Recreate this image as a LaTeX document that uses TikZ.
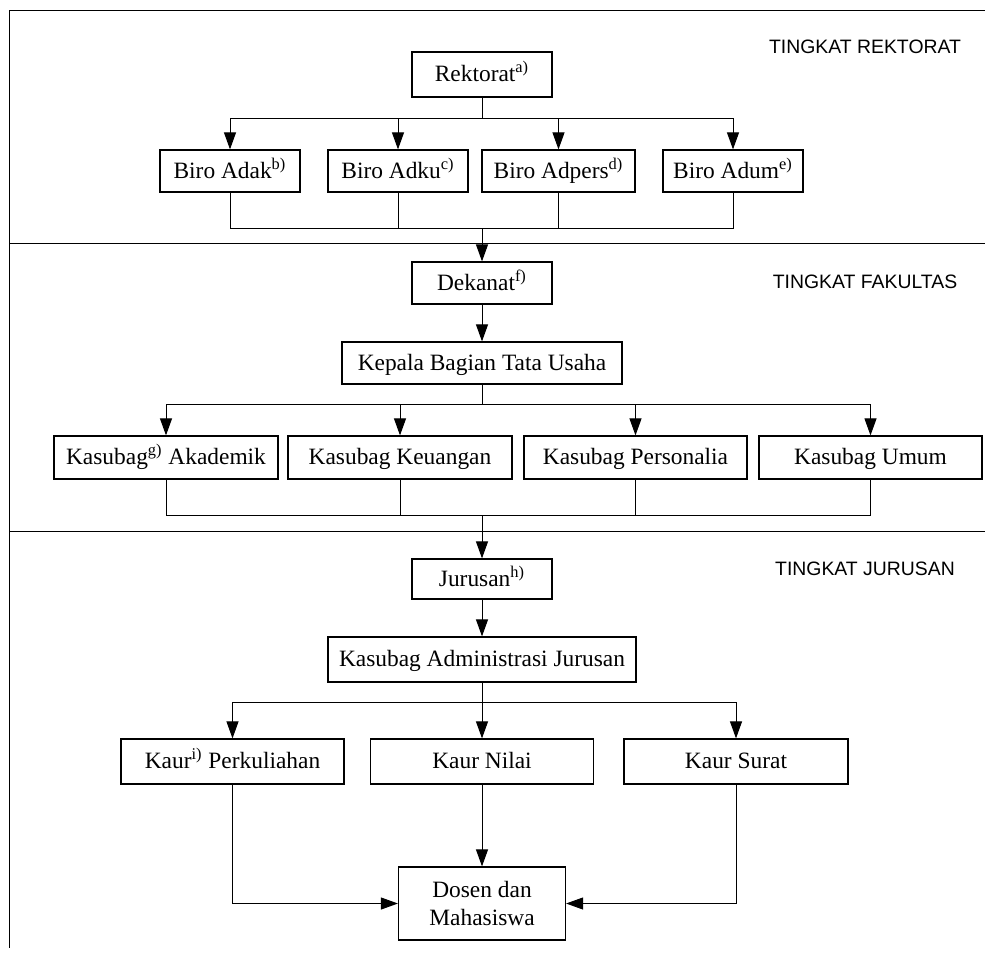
\documentclass[tikz,border=0pt]{standalone}
\usepackage{fontspec}
\setmainfont{Liberation Serif}
\newfontfamily\levelfont{Liberation Sans}
\usetikzlibrary{arrows.meta}

\begin{document}
\begin{tikzpicture}[x=0.5pt, y=-0.5pt, line width=0.5pt,
		box/.style={draw, line width=0.6pt, inner sep=0pt, text height=9.5pt, text depth=2.5pt, font=\fontsize{11.7}{14}\selectfont},
		tallbox/.style={draw, line width=0.6pt, inner sep=0pt, align=center, font=\fontsize{11.7}{14}\selectfont},
		arr/.style={-{Triangle[length=8.5pt,width=6pt]}},
		lvl/.style={font=\levelfont\fontsize{9.7}{11}\selectfont}]
		\useasboundingbox (0,0) rectangle (985,953);

		% Frame and level separators
		\draw (985,10) -- (9,10) -- (9,948);
		\draw (9,243) -- (985,243);
		\draw (9,531) -- (985,531);

		% Level labels
		\node[lvl] (lrek) at (865,47) {TINGKAT REKTORAT};
		\node[lvl] (lfak) at (865,282) {TINGKAT FAKULTAS};
		\node[lvl] (ljur) at (865,569) {TINGKAT JURUSAN};

		% Rektorat level
		\node[box, minimum width=70pt, minimum height=22.5pt] (rek) at (482,74.5) {Rektorat\textsuperscript{a)}};
		\node[box, minimum width=70pt, minimum height=21pt] (adak) at (230,171) {Biro Adak\textsuperscript{b)}};
		\node[box, minimum width=70pt, minimum height=21pt] (adku) at (398,171) {Biro Adku\textsuperscript{c)}};
		\node[box, minimum width=76.5pt, minimum height=21pt] (adpers) at (558.5,171) {Biro Adpers\textsuperscript{d)}};
		\node[box, minimum width=70pt, minimum height=21pt] (adum) at (733,171) {Biro Adum\textsuperscript{e)}};

		% Fakultas level
		\node[box, minimum width=70pt, minimum height=21pt] (dek) at (482,283) {Dekanat\textsuperscript{f)}};
		\node[box, minimum width=140pt, minimum height=21pt] (kabag) at (482,363) {Kepala Bagian Tata Usaha};
		\node[box, minimum width=112pt, minimum height=21.5pt] (akad) at (166,457.5) {Kasubag\textsuperscript{g)} Akademik};
		\node[box, minimum width=112pt, minimum height=21.5pt] (keu) at (400,457.5) {Kasubag Keuangan};
		\node[box, minimum width=111.5pt, minimum height=21.5pt] (pers) at (635.5,457.5) {Kasubag Personalia};
		\node[box, minimum width=111.5pt, minimum height=21.5pt] (umum) at (870.5,457.5) {Kasubag Umum};

		% Jurusan level
		\node[box, minimum width=70pt, minimum height=20pt] (jur) at (482,579) {Jurusan\textsuperscript{h)}};
		\node[box, minimum width=154pt, minimum height=22.5pt] (adm) at (482,659.5) {Kasubag Administrasi Jurusan};
		\node[box, minimum width=111.5pt, minimum height=22.5pt] (perk) at (232.5,761.5) {Kaur\textsuperscript{i)} Perkuliahan};
		\node[box, minimum width=111.5pt, minimum height=22.5pt] (nilai) at (482,761.5) {Kaur Nilai};
		\node[box, minimum width=112pt, minimum height=22.5pt] (surat) at (736,761.5) {Kaur Surat};
		\node[tallbox, minimum width=83.5pt, minimum height=36.5pt] (dosen) at (482,903.5) {Dosen dan\\Mahasiswa};

		% Branch and merge points
		\coordinate (busA) at (482,118);
		\coordinate (mrgA) at (482,228);
		\coordinate (busB) at (482,404);
		\coordinate (mrgB) at (482,515);
		\coordinate (busC) at (482,702);

		% Connectors
		\draw (rek) -- (busA);
		\foreach \n in {adak,adku,adpers,adum} {
			\draw[arr] (busA) -| (\n);
			\draw (\n) |- (mrgA);
		}
		\draw[arr] (mrgA) -- (dek);
		\draw[arr] (dek) -- (kabag);
		\draw (kabag) -- (busB);
		\foreach \n in {akad,keu,pers,umum} {
			\draw[arr] (busB) -| (\n);
			\draw (\n) |- (mrgB);
		}
		\draw[arr] (mrgB) -- (jur);
		\draw[arr] (jur) -- (adm);
		\draw (adm) -- (busC);
		\foreach \n in {perk,nilai,surat}
			\draw[arr] (busC) -| (\n);
		\draw[arr] (nilai) -- (dosen);
		\draw[arr] (perk) |- (dosen);
		\draw[arr] (surat) |- (dosen);
	\end{tikzpicture}
\end{document}
